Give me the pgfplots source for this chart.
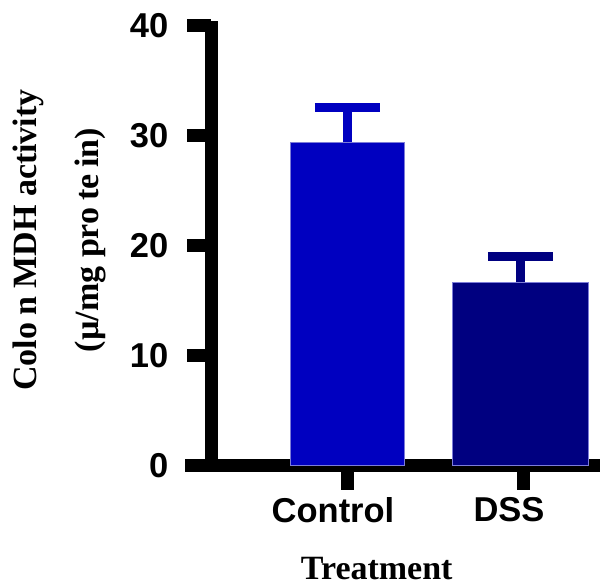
\documentclass[border=0pt]{standalone}
\usepackage{fontspec}
\setmainfont{Liberation Serif}
\newfontfamily\arialfont{Liberation Sans}
\usepackage{pgfplots}
\pgfplotsset{compat=1.18}

\definecolor{ctrlblue}{HTML}{0000C0}
\definecolor{dssnavy}{HTML}{000080}
\definecolor{baredge}{HTML}{7C7CD8}

\begin{document}
\begin{tikzpicture}
\path[use as bounding box] (-211.5pt,-120.5pt) rectangle (389.5pt,465.5pt);
\begin{axis}[
  scale only axis,
  width=388.5pt, height=444.4pt,
  xmin=0, xmax=388.5,
  ymin=0, ymax=40.4,
  axis x line*=bottom, axis y line*=left,
  x axis line style={-, line width=13pt, shorten <=-26pt},
  y axis line style={-, line width=13pt},
  xtick={135.5,311.5},
  xticklabels={Control,DSS},
  ytick={0,10,20,30,40},
  tick align=outside,
  major tick length=24pt,
  every tick/.style={black, line width=13pt},
  /pgf/number format/assume math mode=true,
  tick label style={font=\arialfont\bfseries\fontsize{34.5}{40}\selectfont, inner sep=0pt},
  yticklabel style={anchor=east, xshift=-19pt},
  xticklabel style={anchor=north, xshift=-14pt, yshift=-8pt},
  xlabel={Treatment},
  xlabel style={font=\bfseries\fontsize{34}{38}\selectfont, at={(axis cs:165.2,0)}, anchor=base, yshift=-114pt, inner sep=0pt},
  ylabel={Colo\hspace{0.2em}n MDH activity\\(µ/mg pro\hspace{0.2em}te\hspace{0.2em}in)},
  ylabel style={font=\bfseries\fontsize{34}{62}\selectfont, align=center, at={(axis cs:-152.5,20.5)}, anchor=center, rotate=0},
  ybar,
  clip=false,
]
% Control group
\addplot[fill=ctrlblue, draw=baredge, line width=0.8pt, bar width=113.3pt, bar shift=0pt,
  error bars/.cd, y dir=plus, y explicit,
  error bar style={line width=9pt, ctrlblue},
  error mark options={rotate=90, mark size=32.5pt, line width=9pt, ctrlblue}]
  coordinates {(135.8,29.38) +- (0,3.14)};
% DSS group
\addplot[fill=dssnavy, draw=baredge, line width=0.8pt, bar width=135.3pt, bar shift=0pt,
  error bars/.cd, y dir=plus, y explicit,
  error bar style={line width=9pt, dssnavy},
  error mark options={rotate=90, mark size=32.5pt, line width=9pt, dssnavy}]
  coordinates {(308.8,16.65) +- (0,2.37)};
\end{axis}
\end{tikzpicture}
\end{document}
